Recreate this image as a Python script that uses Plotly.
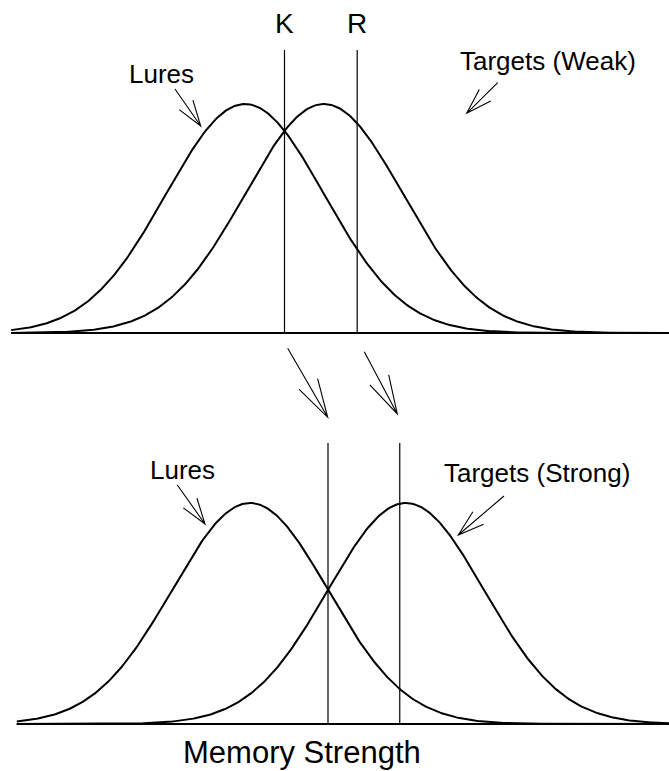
import numpy as np
import plotly.graph_objects as go

# ---------------- data (in SD units) ----------------
sd = 1.0
top_means = {"Lures": 0.0, "Targets (Weak)": 1.0}
top_criteria = {"K": 0.5, "R": 1.42}
bottom_means = {"Lures": 0.0, "Targets (Strong)": 2.0}
bottom_criteria = {"K": 1.0, "R": 1.92}
top_x_start = -2.96
bottom_x_start = -2.99
x_label = "Memory Strength"

# ---------------- layout geometry (pixels) ----------------
W, H = 669, 771
SPLIT = 340                     # pixel row where the two panels meet
# top panel: lure mean at px 245, 79 px per SD, baseline at 333, peak at 104
T_X0, T_XS, T_BASE, T_PEAK = 245, 79.0, 333, 104
# bottom panel: lure mean at px 250, 78 px per SD, baseline at 724, peak at 503
B_X0, B_XS, B_BASE, B_PEAK = 250, 78.0, 724, 503

t_ys = T_BASE - T_PEAK
b_ys = B_BASE - B_PEAK


def curve(mu, x0, x1):
    x = np.linspace(x0, x1, 400)
    return x, np.exp(-0.5 * ((x - mu) / sd) ** 2)


fig = go.Figure()
line_style = dict(color="black", width=2)

t_xmax = (W - T_X0) / T_XS
b_xmax = (W - B_X0) / B_XS

for name, mu in top_means.items():
    x, y = curve(mu, top_x_start, t_xmax)
    fig.add_trace(go.Scatter(x=x, y=y, mode="lines", line=line_style,
                             xaxis="x", yaxis="y", hoverinfo="skip"))
for name, mu in bottom_means.items():
    x, y = curve(mu, bottom_x_start, b_xmax)
    fig.add_trace(go.Scatter(x=x, y=y, mode="lines", line=line_style,
                             xaxis="x2", yaxis="y2", hoverinfo="skip"))

# baselines
fig.add_trace(go.Scatter(x=[top_x_start, t_xmax], y=[0, 0], mode="lines",
                         line=line_style, xaxis="x", yaxis="y", hoverinfo="skip"))
fig.add_trace(go.Scatter(x=[bottom_x_start, b_xmax], y=[0, 0], mode="lines",
                         line=line_style, xaxis="x2", yaxis="y2", hoverinfo="skip"))

# criterion lines
t_line_top = (T_BASE - 50) / t_ys
b_line_top = (B_BASE - 443) / b_ys
for name, c in top_criteria.items():
    fig.add_trace(go.Scatter(x=[c, c], y=[0, t_line_top], mode="lines",
                             line=dict(color="black", width=1.2),
                             xaxis="x", yaxis="y", hoverinfo="skip"))
for name, c in bottom_criteria.items():
    fig.add_trace(go.Scatter(x=[c, c], y=[0, b_line_top], mode="lines",
                             line=dict(color="black", width=1.2),
                             xaxis="x2", yaxis="y2", hoverinfo="skip"))

FONT = "Liberation Sans"
annotations = []
for name, c in top_criteria.items():
    annotations.append(dict(x=c, y=(T_BASE - 23) / t_ys, xref="x", yref="y",
                            text=name, showarrow=False,
                            xanchor="center", yanchor="middle",
                            font=dict(family=FONT, size=28, color="black")))


def pp(x, y):
    return x / W, 1 - y / H


def text_at(px, py, txt, size):
    x, y = pp(px, py)
    annotations.append(dict(x=x, y=y, xref="paper", yref="paper", text=txt,
                            showarrow=False, xanchor="center", yanchor="middle",
                            font=dict(family=FONT, size=size, color="black")))


text_at(161, 74, "Lures", 26)
text_at(548, 61, "Targets (Weak)", 26)
text_at(182, 470, "Lures", 26)
text_at(537, 473, "Targets (Strong)", 26)
text_at(302, 752, x_label, 31)

# arrows (pixel tail -> head, barb length, half angle)
arrows = [
    ((175, 89), (200.7, 126), 27, 18),
    ((497.7, 82.7), (466.7, 113.3), 27, 17.5),
    ((287.7, 348.3), (327.7, 417.3), 40, 15.5),
    ((364.3, 351.7), (397.3, 414), 40, 15.5),
    ((177.3, 485), (205, 524), 27, 18),
    ((504, 496), (458.3, 535), 27.5, 17.5),
]
shapes = []
for tail, head, bl, ang in arrows:
    dx, dy = head[0] - tail[0], head[1] - tail[1]
    L = np.hypot(dx, dy)
    ux, uy = -dx / L, -dy / L
    pts = []
    for s in (1, -1):
        a = np.radians(ang) * s
        rx = ux * np.cos(a) - uy * np.sin(a)
        ry = ux * np.sin(a) + uy * np.cos(a)
        pts.append((head[0] + bl * rx, head[1] + bl * ry))
    P = lambda p: "%.5f,%.5f" % pp(*p)
    path = ("M%s L%s M%s L%s L%s" % (P(tail), P(head), P(pts[0]), P(head), P(pts[1])))
    shapes.append(dict(type="path", path=path, xref="paper", yref="paper",
                       line=dict(color="black", width=1.1)))

axis_common = dict(visible=False, showgrid=False, zeroline=False, fixedrange=True)
fig.update_layout(
    width=W, height=H, margin=dict(l=0, r=0, t=0, b=0),
    paper_bgcolor="white", plot_bgcolor="white", showlegend=False,
    xaxis=dict(domain=[0, 1], range=[-T_X0 / T_XS, t_xmax], anchor="y", **axis_common),
    yaxis=dict(domain=[1 - SPLIT / H, 1],
               range=[(T_BASE - SPLIT) / t_ys, T_BASE / t_ys], anchor="x", **axis_common),
    xaxis2=dict(domain=[0, 1], range=[-B_X0 / B_XS, b_xmax], anchor="y2", **axis_common),
    yaxis2=dict(domain=[0, 1 - SPLIT / H],
                range=[(B_BASE - H) / b_ys, (B_BASE - SPLIT) / b_ys], anchor="x2", **axis_common),
    annotations=annotations, shapes=shapes,
)

fig.write_html("out.html", config={"staticPlot": True},
               post_script="document.body.style.margin='0px';document.body.style.overflow='hidden';")
